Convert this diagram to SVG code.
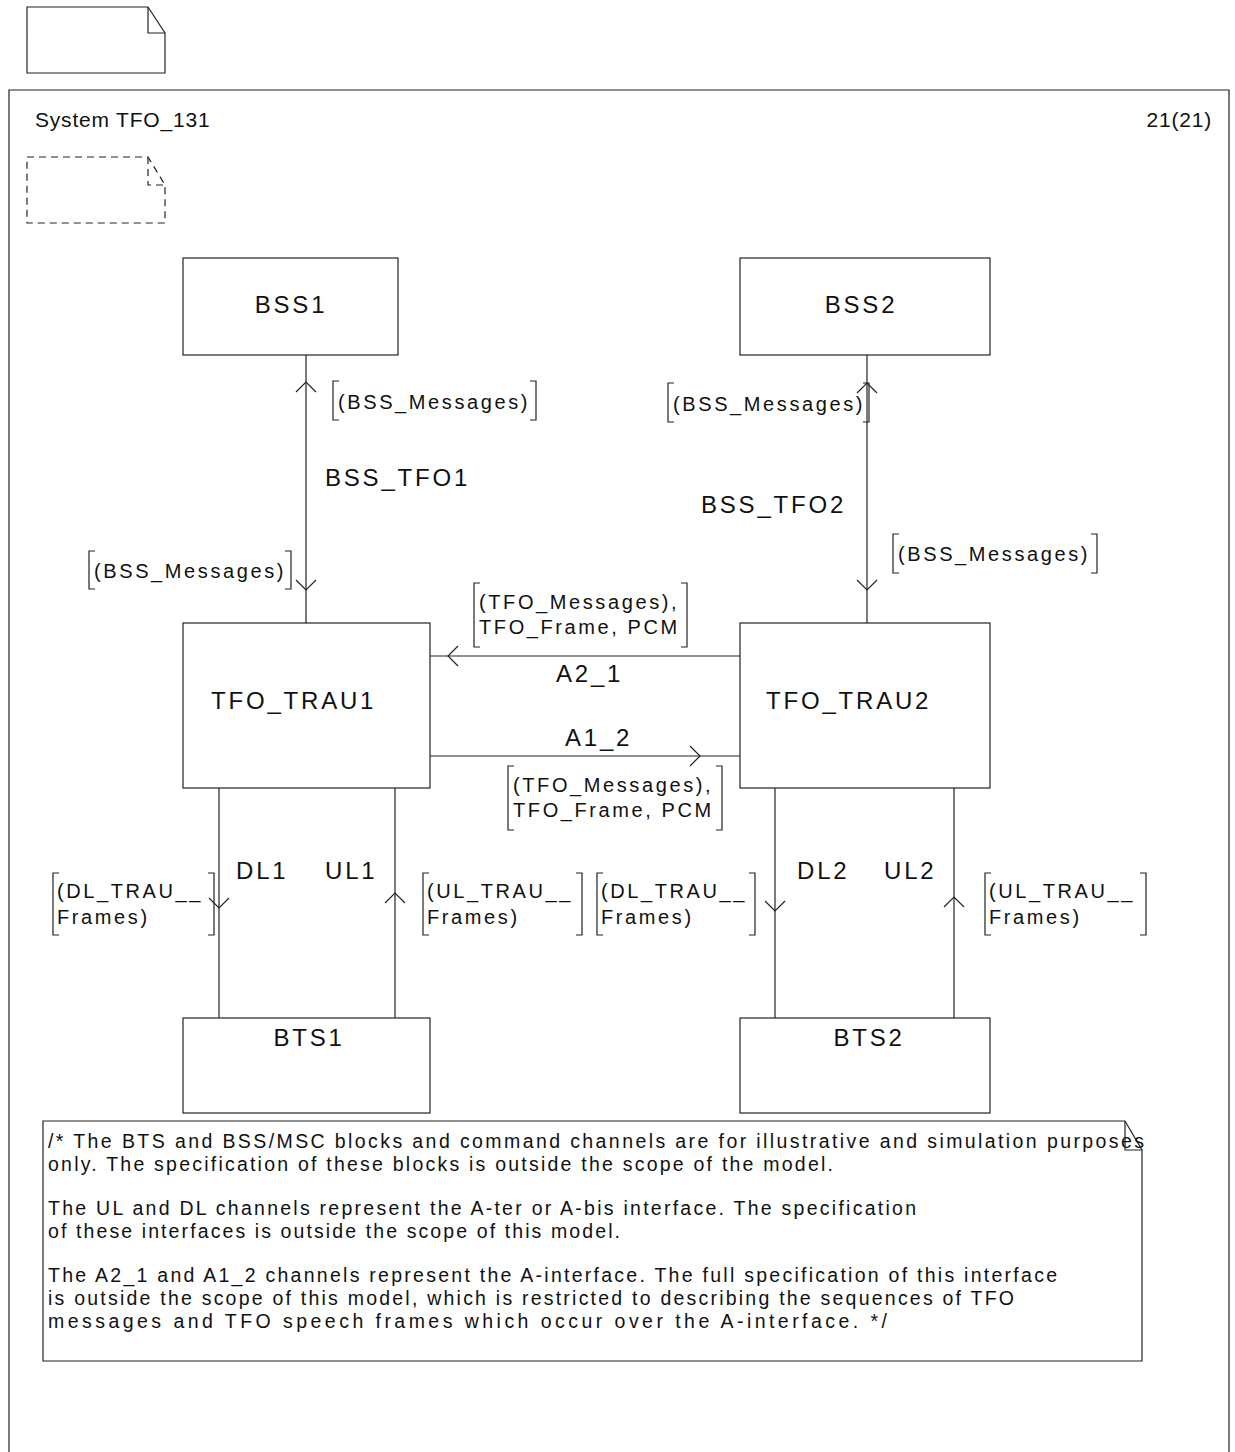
<svg xmlns="http://www.w3.org/2000/svg" width="1235" height="1452" viewBox="0 0 1235 1452">
<style>
.ln{stroke:#222;stroke-width:1.2;fill:none}
.dash{stroke:#222;stroke-width:1.2;fill:none;stroke-dasharray:7 5}
.box{stroke:#222;stroke-width:1.2;fill:#fff}
text{font-family:"Liberation Sans",Arial,sans-serif;fill:#111}
.ttl{font-size:21px;letter-spacing:0.8px}
.blk{font-size:24px;letter-spacing:2.8px}
.sig{font-size:20px;letter-spacing:2.6px}
.cm{font-size:19.5px}
</style>
<rect width="1235" height="1452" fill="#fff"/>
<g id="page-symbol">
<path class="ln" d="M27,7 H148 L165,33 V73 H27 Z"/>
<path class="ln" d="M148,7 V33 H165"/>
</g>
<g id="frame">
<path class="ln" d="M9,1460 V90 H1229 V1460"/>
<text class="ttl" x="35" y="127">System TFO_131</text>
<text class="ttl" x="1212" y="127" text-anchor="end">21(21)</text>
<path class="dash" d="M27,157 H148 L165,185 V223 H27 Z"/>
<path class="dash" d="M148,157 V185 H165"/>
</g>
<g id="connectors">
<line class="ln" x1="306" y1="355" x2="306" y2="623"/>
<path class="ln" d="M296,392 L306,382 L316,392"/>
<path class="ln" d="M296,580 L306,590 L316,580"/>
<line class="ln" x1="867" y1="355" x2="867" y2="623"/>
<path class="ln" d="M857,393 L867,383 L877,393"/>
<path class="ln" d="M857,580 L867,590 L877,580"/>
<line class="ln" x1="430" y1="656" x2="740" y2="656"/>
<path class="ln" d="M458,646 L448,656 L458,666"/>
<line class="ln" x1="430" y1="756" x2="740" y2="756"/>
<path class="ln" d="M690,746 L700,756 L690,766"/>
<line class="ln" x1="219" y1="788" x2="219" y2="1018"/>
<path class="ln" d="M209,898 L219,908 L229,898"/>
<line class="ln" x1="395" y1="788" x2="395" y2="1018"/>
<path class="ln" d="M385,903 L395,893 L405,903"/>
<line class="ln" x1="775" y1="788" x2="775" y2="1018"/>
<path class="ln" d="M765,901 L775,911 L785,901"/>
<line class="ln" x1="954" y1="788" x2="954" y2="1018"/>
<path class="ln" d="M944,907 L954,897 L964,907"/>
<text class="blk" x="325" y="486">BSS_TFO1</text>
<text class="blk" x="701" y="513">BSS_TFO2</text>
<text class="blk" x="556" y="682">A2_1</text>
<text class="blk" x="565" y="746">A1_2</text>
<text class="blk" x="236" y="879">DL1</text>
<text class="blk" x="325" y="879">UL1</text>
<text class="blk" x="797" y="879">DL2</text>
<text class="blk" x="884" y="879">UL2</text>
<path class="ln" d="M339,381 H333 V420 H339 M530,381 H536 V420 H530"/>
<text class="sig" x="338" y="409">(BSS_Messages)</text>
<path class="ln" d="M95,551 H89 V589 H95 M285,551 H291 V589 H285"/>
<text class="sig" x="94" y="578">(BSS_Messages)</text>
<path class="ln" d="M674,383 H668 V422 H674 M863,383 H869 V422 H863"/>
<text class="sig" x="673" y="411">(BSS_Messages)</text>
<path class="ln" d="M899,534 H893 V573 H899 M1091,534 H1097 V573 H1091"/>
<text class="sig" x="898" y="561">(BSS_Messages)</text>
<path class="ln" d="M480,583 H474 V647 H480 M681,583 H687 V647 H681"/>
<text class="sig" x="479" y="609">(TFO_Messages),</text>
<text class="sig" x="479" y="634">TFO_Frame, PCM</text>
<path class="ln" d="M514,766 H508 V830 H514 M716,766 H722 V830 H716"/>
<text class="sig" x="513" y="792">(TFO_Messages),</text>
<text class="sig" x="513" y="817">TFO_Frame, PCM</text>
<path class="ln" d="M59,873 H53 V935 H59 M208,873 H214 V935 H208"/>
<text class="sig" x="57" y="898">(DL_TRAU__</text>
<text class="sig" x="57" y="924">Frames)</text>
<path class="ln" d="M429,873 H423 V935 H429 M576,873 H582 V935 H576"/>
<text class="sig" x="427" y="898">(UL_TRAU__</text>
<text class="sig" x="427" y="924">Frames)</text>
<path class="ln" d="M603,873 H597 V935 H603 M749,873 H755 V935 H749"/>
<text class="sig" x="601" y="898">(DL_TRAU__</text>
<text class="sig" x="601" y="924">Frames)</text>
<path class="ln" d="M991,873 H985 V935 H991 M1140,873 H1146 V935 H1140"/>
<text class="sig" x="989" y="898">(UL_TRAU__</text>
<text class="sig" x="989" y="924">Frames)</text>
</g>
<g id="BSS1">
<rect class="box" x="183" y="258" width="215" height="97"/>
<text class="blk" x="291" y="313" text-anchor="middle">BSS1</text>
</g>
<g id="BSS2">
<rect class="box" x="740" y="258" width="250" height="97"/>
<text class="blk" x="861" y="313" text-anchor="middle">BSS2</text>
</g>
<g id="TFO_TRAU1">
<rect class="box" x="183" y="623" width="247" height="165"/>
<text class="blk" x="211" y="709">TFO_TRAU1</text>
</g>
<g id="TFO_TRAU2">
<rect class="box" x="740" y="623" width="250" height="165"/>
<text class="blk" x="766" y="709">TFO_TRAU2</text>
</g>
<g id="BTS1">
<rect class="box" x="183" y="1018" width="247" height="95"/>
<text class="blk" x="309" y="1046" text-anchor="middle">BTS1</text>
</g>
<g id="BTS2">
<rect class="box" x="740" y="1018" width="250" height="95"/>
<text class="blk" x="869" y="1046" text-anchor="middle">BTS2</text>
</g>
<g id="comment">
<path class="ln" d="M43,1121 H1125 L1142,1150 V1361 H43 Z"/>
<path class="ln" d="M1125,1121 V1150 H1142"/>
<text class="cm" x="48" y="1148" textLength="1096" lengthAdjust="spacing">/* The BTS and BSS/MSC blocks and command channels are for illustrative and simulation purposes</text>
<text class="cm" x="48" y="1171" textLength="785" lengthAdjust="spacing">only. The specification of these blocks is outside the scope of the model.</text>
<text class="cm" x="48" y="1215" textLength="868" lengthAdjust="spacing">The UL and DL channels represent the A-ter or A-bis interface. The specification</text>
<text class="cm" x="48" y="1238" textLength="572" lengthAdjust="spacing">of these interfaces is outside the scope of this model.</text>
<text class="cm" x="48" y="1282" textLength="1009" lengthAdjust="spacing">The A2_1 and A1_2 channels represent the A-interface. The full specification of this interface</text>
<text class="cm" x="48" y="1305" textLength="966" lengthAdjust="spacing">is outside the scope of this model, which is restricted to describing the sequences of TFO</text>
<text class="cm" x="48" y="1328" textLength="839" lengthAdjust="spacing">messages and TFO speech frames which occur over the A-interface. */</text>
</g>
</svg>
